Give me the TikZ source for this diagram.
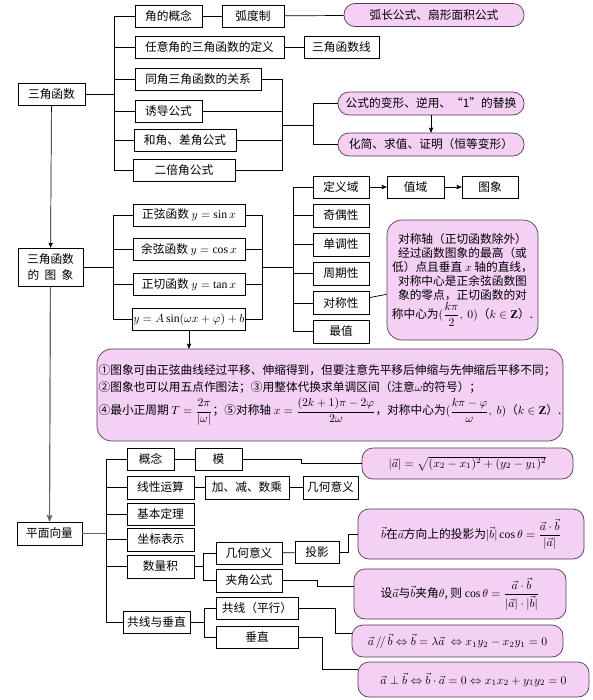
\documentclass[tikz,border=0pt]{standalone}
\usepackage{amsmath}
\usepackage{amssymb}
\usepackage{xcolor}
\usepackage{fontspec}
\setmainfont{Liberation Serif}
\newfontfamily\cjk{Noto Sans CJK SC}
\usepackage{tikz}
\usetikzlibrary{arrows}
\usetikzlibrary{calc}
\usetikzlibrary{positioning}

\definecolor{pinkfill}{RGB}{245,208,245}
\definecolor{pinkline}{RGB}{85,55,85}

\begin{document}
\begin{tikzpicture}[x=0.03cm,y=-0.03cm,-,>=stealth',line width=0.6pt]
	\tikzstyle{box}=[draw, inner sep=1pt, minimum height=0.66cm, font=\cjk\fontsize{10}{12}\selectfont]
	\tikzstyle{pk}=[box, draw=pinkline, fill=pinkfill, rounded corners=0.33cm, minimum height=0.69cm]
	\tikzstyle{big}=[pk, rounded corners=0.45cm, align=center]
	\tikzstyle{vh}=[to path={|- (\tikztotarget)}]
	\tikzstyle{hv}=[to path={-| (\tikztotarget)}]
	\useasboundingbox (0,0) rectangle (593,700);

	% trig functions
	\node[box, minimum width=2.01cm] 	(sj) at (51.5,94) 		{三角函数};
	\node[box, minimum width=2.01cm] 	(gn) at (168.5,16) 		{角的概念};
	\node[box, minimum width=1.86cm] 	(hdz) at (253,16) 		{弧度制};
	\node[pk, minimum width=5.4cm] 		(hc) at (434,15) 		{弧长公式、扇形面积公式};
	\node[box, minimum width=4.47cm] 	(dy) at (209.5,47.5) 	{任意角的三角函数的定义};
	\node[box, minimum width=2.25cm] 	(sjx) at (341.5,47.5) 	{三角函数线};
	\node[box, minimum width=3.78cm] 	(gx) at (198,79) 		{同角三角函数的关系};
	\node[box, minimum width=2.01cm] 	(yd) at (168.5,111) 	{诱导公式};
	\node[box, minimum width=3.06cm] 	(hj) at (185,140.5) 	{和角、差角公式};
	\node[box, minimum width=3.06cm] 	(eb) at (184,170) 		{二倍角公式};
	\node[pk, minimum width=5.58cm] 	(bh) at (431,103.5) 	{公式的变形、逆用、“1”的替换};
	\node[pk, minimum width=5.58cm] 	(hz) at (431,144.5) 	{化简、求值、证明（恒等变形）};
	\coordinate (b1) at (114,94);
	\coordinate (b2) at (282,125);
	\coordinate (b3) at (313,125);
	\path
		(sj) edge (b1)
		(b1) edge[vh] (gn.west)
		(b1) edge[vh] (dy.west)
		(b1) edge[vh] (gx.west)
		(b1) edge[vh] (yd.west)
		(b1) edge[vh] (hj.west)
		(b1) edge[vh] (eb.west)
		(gn) edge (hdz)
		(hdz) edge (hc)
		(dy) edge (sjx)
		(gx.east) edge[hv] (b2)
		(yd.east) edge[hv] (b2)
		(hj.east) edge[hv] (b2)
		(eb.east) edge[hv] (b2)
		(b2) edge (b3)
		(b3) edge[vh] (bh.west)
		(b3) edge[vh] (hz.west)
		(bh) edge[->] (hz);

	% graphs
	\node[box, minimum width=1.95cm, minimum height=1.14cm, align=center] (tx) at (50.5,267) {三角函数\\[1pt]的\hspace{0.45em}图\hspace{0.45em}象};
	\node[box, minimum width=3.36cm] 	(sin) at (189,215) 		{正弦函数 $y=\sin x$};
	\node[box, minimum width=3.36cm] 	(cos) at (189,249.5) 	{余弦函数 $y=\cos x$};
	\node[box, minimum width=3.36cm] 	(tan) at (189,284.5) 	{正切函数 $y=\tan x$};
	\node[box, minimum width=3.36cm] 	(as) at (189,319.5) 	{$y=A\sin(\omega x+\varphi)+b$};
	\node[box, minimum width=1.68cm] 	(dyy) at (341,187) 		{定义域};
	\node[box, minimum width=1.71cm] 	(zy) at (415.5,187) 	{值域};
	\node[box, minimum width=1.68cm] 	(tu) at (490,187) 		{图象};
	\node[box, minimum width=1.68cm, minimum height=0.69cm] (jo) at (341,215.5) {奇偶性};
	\node[box, minimum width=1.68cm, minimum height=0.69cm] (dd) at (341,244.5) {单调性};
	\node[box, minimum width=1.68cm, minimum height=0.69cm] (zq) at (341,273.5) {周期性};
	\node[box, minimum width=1.68cm, minimum height=0.69cm] (dc) at (341,303) 	{对称性};
	\node[box, minimum width=1.68cm, minimum height=0.69cm] (zz) at (341,331.5) {最值};
	\node[big, minimum width=4.53cm, minimum height=3.6cm] (dcz) at (462.5,280) {对称轴（正切函数除外）\\经过函数图象的最高（或\\低）点且垂直 $x$ 轴的直线，\\对称中心是正余弦函数图\\象的零点，正切函数的对\\称中心为$(\dfrac{k\pi}{2},\ 0)$（$k\in\mathbf{Z}$）.};
	\node[big, minimum width=13.98cm, minimum height=2.76cm, align=left] (ns) at (330,395) {①图象可由正弦曲线经过平移、伸缩得到，但要注意先平移后伸缩与先伸缩后平移不同；\\[3pt]②图象也可以用五点作图法；③用整体代换求单调区间（注意$\omega$的符号）；\\[3pt]④最小正周期 $T=\dfrac{2\pi}{|\omega|}$；⑤对称轴 $x=\dfrac{(2k+1)\pi-2\varphi}{2\omega}$，对称中心为$(\dfrac{k\pi-\varphi}{\omega},\ b)$（$k\in\mathbf{Z}$）.};
	\coordinate (b4) at (113,267);
	\coordinate (b5) at (262,267);
	\coordinate (b6) at (293,267);
	\path
		(sj) edge[->] (tx)
		(tx) edge (b4)
		(b4) edge[vh] (sin.west)
		(b4) edge[vh] (cos.west)
		(b4) edge[vh] (tan.west)
		(b4) edge[vh] (as.west)
		(sin.east) edge[hv] (b5)
		(cos.east) edge[hv] (b5)
		(tan.east) edge[hv] (b5)
		(as.east) edge[hv] (b5)
		(b5) edge (b6)
		(b6) edge[vh] (dyy.west)
		(b6) edge[vh] (jo.west)
		(b6) edge[vh] (dd.west)
		(b6) edge[vh] (zq.west)
		(b6) edge[vh] (dc.west)
		(b6) edge[vh] (zz.west)
		(dyy) edge[->] (zy)
		(zy) edge[->] (tu)
		(dc) edge (dcz)
		(as) edge[->] (ns.north -| as);

	% plane vectors
	\node[box, minimum width=1.95cm, minimum height=0.69cm] (xl) at (49.5,533.5) {平面向量};
	\node[box, minimum width=1.41cm] 	(gn2) at (150.5,459) 	{概念};
	\node[box, minimum width=1.41cm] 	(mo) at (218.5,459) 	{模};
	\node[pk, minimum width=6.33cm, minimum height=0.93cm] (mop) at (467.5,463.5) {$|\vec{a}|=\sqrt{(x_2-x_1)^2+(y_2-y_1)^2}$};
	\node[box, minimum width=2.01cm, minimum height=0.69cm] (xx) at (160.5,487.5) {线性运算};
	\node[box, minimum width=2.52cm, minimum height=0.69cm] (jj) at (247,487.5) 	{加、减、数乘};
	\node[box, minimum width=1.65cm, minimum height=0.69cm] (jh) at (330.5,487.5) {几何意义};
	\node[box, minimum width=2.01cm] 	(jb) at (160.5,514) 	{基本定理};
	\node[box, minimum width=2.01cm, minimum height=0.69cm] (zb) at (161,539.5) {坐标表示};
	\node[box, minimum width=2.01cm, minimum height=0.69cm] (sl) at (160.5,566.5) {数量积};
	\node[box, minimum width=1.98cm] 	(jh2) at (249,553) 		{几何意义};
	\node[box, minimum width=1.98cm, minimum height=0.69cm] (jjgs) at (249,580.5) {夹角公式};
	\node[box, minimum width=1.32cm] 	(ty) at (317,552.5) 	{投影};
	\node[pk, minimum width=6.78cm, minimum height=1.5cm] (typ) at (471,534) {$\vec{b}$在$\vec{a}$方向上的投影为$|\vec{b}|\cos\theta=\dfrac{\vec{a}\cdot\vec{b}}{|\vec{a}|}$};
	\node[pk, minimum width=6.36cm, minimum height=1.5cm] (jjp) at (460,594) {设$\vec{a}$与$\vec{b}$夹角$\theta$, 则 $\cos\theta=\dfrac{\vec{a}\cdot\vec{b}}{|\vec{a}|\cdot|\vec{b}|}$};
	\node[box, minimum width=2.01cm] 	(gc) at (156.5,622) 	{共线与垂直};
	\node[box, minimum width=2.46cm] 	(gx2) at (257,608) 		{共线（平行）};
	\node[box, minimum width=2.46cm] 	(cz) at (257,637) 		{垂直};
	\node[pk, minimum width=6.33cm, minimum height=0.96cm] (gxp) at (457.5,641) {$\vec{a}\,/\!/\,\vec{b}\Leftrightarrow\vec{b}=\lambda\vec{a}\ \Leftrightarrow x_1y_2-x_2y_1=0$};
	\node[pk, minimum width=6.93cm, minimum height=1.05cm] (czp) at (473.5,679.5) {$\vec{a}\perp\vec{b}\Leftrightarrow\vec{b}\cdot\vec{a}=0\Leftrightarrow x_1x_2+y_1y_2=0$};
	\coordinate (b7) at (106,533.5);
	\coordinate (b8) at (203,566.5);
	\coordinate (b9) at (204,622);
	\path
		(tx) edge[->, draw=gray!80!black, line width=1pt] (xl)
		(xl) edge[draw=gray!80!black, line width=1pt] (b7)
		(b7) edge[vh] (gn2.west)
		(b7) edge[vh] (xx.west)
		(b7) edge[vh] (jb.west)
		(b7) edge[vh] (zb.west)
		(b7) edge[vh] (sl.west)
		(b7) edge[vh] (gc.west)
		(gn2) edge (mo)
		(xx) edge (jj)
		(jj) edge (jh)
		(sl) edge (b8)
		(b8) edge[vh] (jh2.west)
		(b8) edge[vh] (jjgs.west)
		(jh2) edge (ty)
		(gc) edge (b9)
		(b9) edge[vh] (gx2.west)
		(b9) edge[vh] (cz.west);
	\draw (mo.east) -- ++(59,0) |- (mop.west);
	\draw (ty.east) -- ++(9,0) |- (typ.west);
	\draw (jjgs.east) -- ++(35,0) |- ($(jjp.west)+(0,-8)$);
	\draw (gx2.east) -- ++(37,0) |- ($(gxp.west)+(0,-8)$);
	\draw (cz.east) -- ++(24,0) |- ($(czp.west)+(0,-10)$);
\end{tikzpicture}
\end{document}
